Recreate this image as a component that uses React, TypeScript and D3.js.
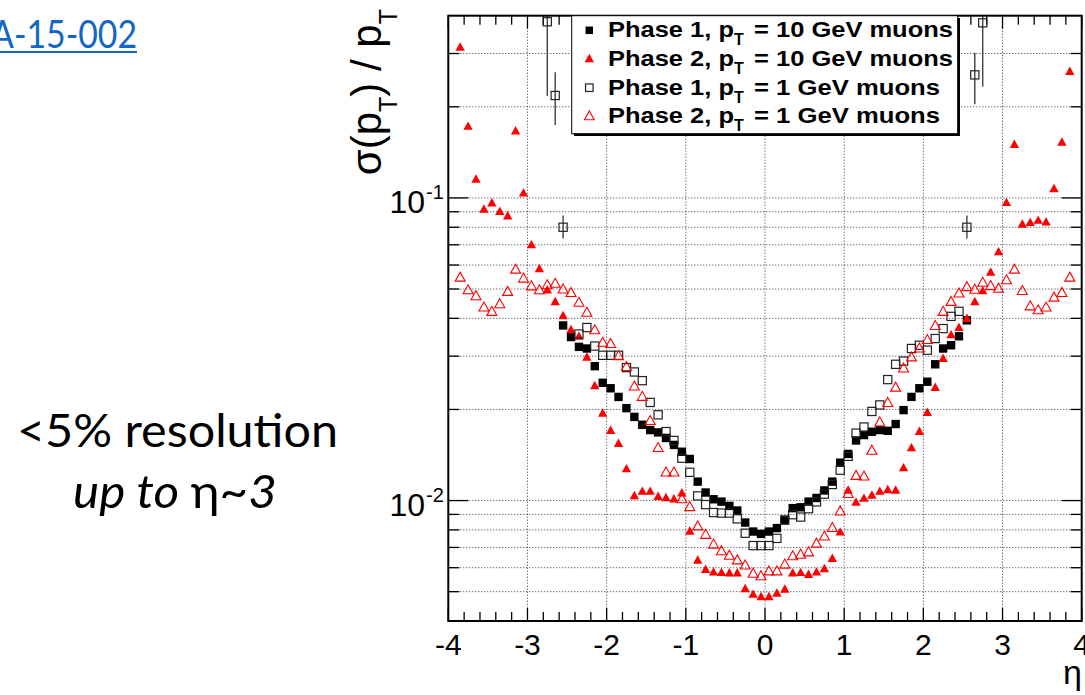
import React from 'react';
import * as d3 from 'd3';

// eta bin centres
const ETA = [
  -3.85, -3.75, -3.65, -3.55, -3.45, -3.35, -3.25, -3.15, -3.05, -2.95,
  -2.85, -2.75, -2.65, -2.55, -2.45, -2.35, -2.25, -2.15, -2.05, -1.95,
  -1.85, -1.75, -1.65, -1.55, -1.45, -1.35, -1.25, -1.15, -1.05, -0.95,
  -0.85, -0.75, -0.65, -0.55, -0.45, -0.35, -0.25, -0.15, -0.05, 0.05,
  0.15, 0.25, 0.35, 0.45, 0.55, 0.65, 0.75, 0.85, 0.95, 1.05,
  1.15, 1.25, 1.35, 1.45, 1.55, 1.65, 1.75, 1.85, 1.95, 2.05,
  2.15, 2.25, 2.35, 2.45, 2.55, 2.65, 2.75, 2.85, 2.95, 3.05,
  3.15, 3.25, 3.35, 3.45, 3.55, 3.65, 3.75, 3.85,
];

// Phase 2, pT = 10 GeV (filled red triangles)
const P2_10 = [
  0.314, 0.172, 0.115, 0.0915, 0.096, 0.090, 0.087, 0.166, 0.1035, 0.0698,
  0.0582, 0.0495, 0.0453, 0.0407, 0.0366, 0.0348, 0.0297, 0.0239, 0.0194, 0.0170,
  0.0154, 0.0127, 0.01035, 0.0107, 0.0107, 0.0103, 0.0102, 0.0101, 0.01057, 0.0079,
  0.00634, 0.00591, 0.00579, 0.00577, 0.00575, 0.00575, 0.0051, 0.00489, 0.0048, 0.0048,
  0.00493, 0.00508, 0.00575, 0.00577, 0.00569, 0.00579, 0.00594, 0.00642, 0.00785, 0.0108,
  0.00985, 0.01015, 0.01039, 0.0107, 0.01084, 0.0108, 0.0128, 0.0149, 0.01688, 0.0195,
  0.0236, 0.0294, 0.0352, 0.0372, 0.0399, 0.0453, 0.0492, 0.0567, 0.0662, 0.0963,
  0.1498, 0.0817, 0.0827, 0.0841, 0.083, 0.107, 0.1525, 0.261,
];

// Phase 2, pT = 1 GeV (open red triangles)
const P2_1 = [
  0.0545, 0.0495, 0.0473, 0.0434, 0.042, 0.0445, 0.0489, 0.0579, 0.0541, 0.051,
  0.0495, 0.0514, 0.052, 0.0498, 0.0485, 0.045, 0.0417, 0.0365, 0.0332, 0.0329,
  0.030, 0.0276, 0.0238, 0.0220, 0.0183, 0.0149, 0.01237, 0.01237, 0.0101, 0.00951,
  0.00821, 0.0077, 0.00715, 0.0068, 0.00657, 0.00634, 0.0061, 0.00573, 0.00562, 0.00583,
  0.00583, 0.00614, 0.00654, 0.00662, 0.00674, 0.0072, 0.0076, 0.00811, 0.0092, 0.0105,
  0.01206, 0.012, 0.0146, 0.0181, 0.021, 0.0236, 0.0273, 0.0297, 0.0318, 0.0339,
  0.0377, 0.042, 0.0453, 0.0483, 0.0507, 0.0497, 0.0524, 0.0511, 0.0501, 0.0534,
  0.0579, 0.0492, 0.0438, 0.0425, 0.0434, 0.0468, 0.0485, 0.0545,
];

// Phase 1, pT = 10 GeV (filled black squares)
const P1_10 = [
  null, null, null, null, null, null, null, null, null, null,
  null, null, null, 0.0379, 0.0347, 0.0322, 0.0318, 0.0278, 0.0245, 0.0235,
  0.022, 0.0202, 0.0189, 0.0178, 0.0171, 0.0168, 0.0161, 0.01527, 0.0145, 0.01372,
  0.01155, 0.01063, 0.0101, 0.00992, 0.0096, 0.00927, 0.00846, 0.0079, 0.00776, 0.0079,
  0.00811, 0.0086, 0.00944, 0.0095, 0.00992, 0.0102, 0.0108, 0.01155, 0.01334, 0.01426,
  0.0158, 0.01646, 0.01688, 0.0171, 0.0170, 0.0179, 0.0199, 0.022, 0.0235, 0.0247,
  0.0282, 0.0318, 0.0326, 0.0349, 0.0394, null, null, null, null, null,
  null, null, null, null, null, null, null, null,
];

// Phase 1, pT = 1 GeV (open black squares)
const P1_1 = [
  null, null, null, null, null, null, null, null, null, null,
  null, 0.382, 0.218, 0.080, null, 0.0355, 0.0373, 0.0324, 0.0302, 0.0302,
  0.0302, 0.0275, 0.0266, 0.0249, 0.0211, 0.0192, 0.0169, 0.0158, 0.0138, 0.0124,
  0.01036, 0.0097, 0.00913, 0.00909, 0.00909, 0.0087, 0.0078, 0.0071, 0.0071, 0.0071,
  0.0075, 0.00863, 0.00898, 0.00882, 0.0094, 0.0099, 0.0105, 0.0113, 0.0126, 0.0140,
  0.0167, 0.0175, 0.0197, 0.0207, 0.0251, 0.0282, 0.0289, 0.0318, 0.0326, 0.0314,
  0.0343, 0.037, 0.0406, 0.0422, 0.080, 0.255, 0.379, null, null, null,
  null, null, null, null, null, null, null, null,
];
// error bar ranges for Phase 1, 1 GeV (low, high) where visible
const P1_1_ERR_LO = { 11: 0.217, 12: 0.174, 13: 0.0734, 64: 0.0734, 65: 0.204, 66: 0.233 };
const P1_1_ERR_HI = { 11: 0.5, 12: 0.26, 13: 0.0874, 64: 0.0874, 65: 0.302, 66: 0.5 };

const X_MAJOR = [-4, -3, -2, -1, 0, 1, 2, 3, 4];
const Y_LABELS = [
  { v: 0.1, exp: '-1' },
  { v: 0.01, exp: '-2' },
];
const LEGEND = [
  { kind: 'fsq', main: 'Phase 1, p', rest: '= 10 GeV muons' },
  { kind: 'ftri', main: 'Phase 2, p', rest: '= 10 GeV muons' },
  { kind: 'osq', main: 'Phase 1, p', rest: '= 1 GeV muons' },
  { kind: 'otri', main: 'Phase 2, p', rest: '= 1 GeV muons' },
];

const FONT = "'Liberation Sans', Arial, Helvetica, sans-serif";
const SLIDE_FONT = "Lato, 'Open Sans', sans-serif";
const RED = '#ff0000';

function triPath(s: number) {
  const w = s, h = s * 0.9;
  return `M0,${-h * 0.62}L${w / 2},${h * 0.38}L${-w / 2},${h * 0.38}Z`;
}

function Marker({ kind, cx, cy, s }: { kind: string; cx: number; cy: number; s: number }) {
  if (kind === 'fsq') return <rect x={cx - s / 2} y={cy - s / 2} width={s} height={s} fill="#000" />;
  if (kind === 'osq') return <rect x={cx - s / 2} y={cy - s / 2} width={s} height={s} fill="none" stroke="#222" strokeWidth={1.2} />;
  if (kind === 'ftri') return <path d={triPath(s * 1.1)} transform={`translate(${cx},${cy})`} fill={RED} />;
  return <path d={triPath(s * 1.15)} transform={`translate(${cx},${cy})`} fill="none" stroke={RED} strokeWidth={1.1} />;
}

export default function App() {
  const L = 448.3, R = 1081.7, T = 15.7, B = 621;
  const x = d3.scaleLinear().domain([-4, 4]).range([L, R]);
  const y = d3.scaleLog().domain([0.004, 0.4]).range([B, T]);

  const yTicks = y.ticks().filter((v) => v > 0.0041 && v < 0.39);
  const yMajor = (v: number) => Math.abs(Math.log10(v) - Math.round(Math.log10(v))) < 1e-6;
  const xMinor = d3.range(-4, 4.0001, 0.2).filter((v) => Math.abs(v - Math.round(v)) > 1e-6);

  const series = [
    { kind: 'fsq', data: P1_10, s: 8.4 },
    { kind: 'ftri', data: P2_10, s: 8.5 },
    { kind: 'osq', data: P1_1, s: 8.2 },
    { kind: 'otri', data: P2_1, s: 8.7 },
  ];

  return (
    <svg width={1085} height={695} style={{ position: 'fixed', left: 0, top: 0, background: '#fff' }}>
      <defs>
        <clipPath id="frame">
          <rect x={L} y={T} width={R - L} height={B - T} />
        </clipPath>
      </defs>
      <rect x={0} y={0} width={1085} height={695} fill="#fff" />

      {/* slide texts */}
      <text x={-9} y={48} fontFamily={SLIDE_FONT} fontSize={38} fill="#1466c4" textLength={146} lengthAdjust="spacingAndGlyphs">A-15-002</text>
      <line x1={0} x2={137} y1={52} y2={52} stroke="#1466c4" strokeWidth={2} />
      <text x={17} y={447} fontFamily={SLIDE_FONT} fontSize={47} fill="#000" textLength={321} lengthAdjust="spacingAndGlyphs">&lt;5% resolution</text>
      <text x={73} y={508} fontFamily={SLIDE_FONT} fontSize={47} fill="#000" textLength={204} lengthAdjust="spacingAndGlyphs">
        <tspan fontStyle="italic">up to </tspan>
        <tspan>η</tspan>
        <tspan fontStyle="italic">~3</tspan>
      </text>

      {/* grid */}
      <g stroke="#333" strokeWidth={1} strokeDasharray="1,2">
        {X_MAJOR.filter((v) => v > -4 && v < 4).map((v) => (
          <line key={'gx' + v} x1={x(v)} x2={x(v)} y1={T} y2={B} />
        ))}
        {yTicks.map((v) => (
          <line key={'gy' + v} x1={L} x2={R} y1={y(v)} y2={y(v)} />
        ))}
      </g>

      {/* ticks */}
      <g stroke="#000" strokeWidth={1.3}>
        {X_MAJOR.map((v) => (
          <g key={'tx' + v}>
            <line x1={x(v)} x2={x(v)} y1={B} y2={B - 13} />
            <line x1={x(v)} x2={x(v)} y1={T} y2={T + 13} />
          </g>
        ))}
        {xMinor.map((v) => (
          <g key={'tmx' + v}>
            <line x1={x(v)} x2={x(v)} y1={B} y2={B - 9} />
            <line x1={x(v)} x2={x(v)} y1={T} y2={T + 9} />
          </g>
        ))}
        {yTicks.map((v) => {
          const len = yMajor(v) ? 20 : 11;
          return (
            <g key={'ty' + v}>
              <line x1={L} x2={L + len} y1={y(v)} y2={y(v)} />
              <line x1={R} x2={R - len} y1={y(v)} y2={y(v)} />
            </g>
          );
        })}
      </g>

      {/* data */}
      <g clipPath="url(#frame)">
        {ETA.map((e, i) => {
          const lo = (P1_1_ERR_LO as any)[i];
          const hi = (P1_1_ERR_HI as any)[i];
          if (lo === undefined) return null;
          return <line key={'err' + i} x1={x(e)} x2={x(e)} y1={y(Math.min(hi, 0.4))} y2={y(lo)} stroke="#333" strokeWidth={1.3} />;
        })}
        {series.map((s) => (
          <g key={s.kind}>
            {ETA.map((e, i) => {
              const v = s.data[i];
              if (v === null || v === undefined) return null;
              return <Marker key={i} kind={s.kind} cx={x(e)} cy={y(v)} s={s.s} />;
            })}
          </g>
        ))}
      </g>

      {/* frame */}
      <rect x={L} y={T} width={R - L} height={B - T} fill="none" stroke="#000" strokeWidth={2} />

      {/* x tick labels */}
      {X_MAJOR.map((v) => (
        <text key={'lx' + v} x={x(v)} y={655} textAnchor="middle" fontFamily={FONT} fontSize={30} fill="#000">
          {v < 0 ? '-' + Math.abs(v) : String(v)}
        </text>
      ))}
      {/* y tick labels */}
      {Y_LABELS.map((t) => (
        <g key={'ly' + t.v}>
          <text x={425} y={y(t.v) + 15} textAnchor="end" fontFamily={FONT} fontSize={32} fill="#000">10</text>
          <text x={426} y={y(t.v) + 1} fontFamily={FONT} fontSize={20} fill="#000">{t.exp}</text>
        </g>
      ))}

      {/* axis titles */}
      <text x={1082} y={684} textAnchor="end" fontFamily={FONT} fontSize={34} fill="#000">η</text>
      <g transform="translate(381,9) rotate(-90)">
        <text x={0} y={0} textAnchor="end" fontFamily={FONT} fontSize={42} fill="#000">
          σ(p<tspan fontSize={25} dy={16}>T</tspan><tspan dy={-16}>) / p</tspan><tspan fontSize={25} dy={16}>T</tspan>
        </text>
      </g>

      {/* legend */}
      <rect x={574} y={18} width={386} height={118} fill="#000" />
      <rect x={571.7} y={15.7} width={386} height={118} fill="#fff" stroke="#000" strokeWidth={1} />
      {LEGEND.map((l, i) => {
        const base = 37.3 + i * 28.7;
        const cy = base - 7;
        return (
          <g key={'lg' + i}>
            <Marker kind={l.kind} cx={589.3} cy={cy} s={l.kind.includes('tri') ? 8.5 : 7.5} />
            <text x={608} y={base} fontFamily={FONT} fontWeight="bold" fontSize={22} textLength={126} lengthAdjust="spacingAndGlyphs" fill="#000">{l.main}</text>
            <text x={734} y={base + 8} fontFamily={FONT} fontWeight="bold" fontSize={16} fill="#000">T</text>
            <text x={754} y={base} fontFamily={FONT} fontWeight="bold" fontSize={22} textLength={l.rest.includes('10') ? 199 : 186} lengthAdjust="spacingAndGlyphs" fill="#000">{l.rest}</text>
          </g>
        );
      })}
    </svg>
  );
}
